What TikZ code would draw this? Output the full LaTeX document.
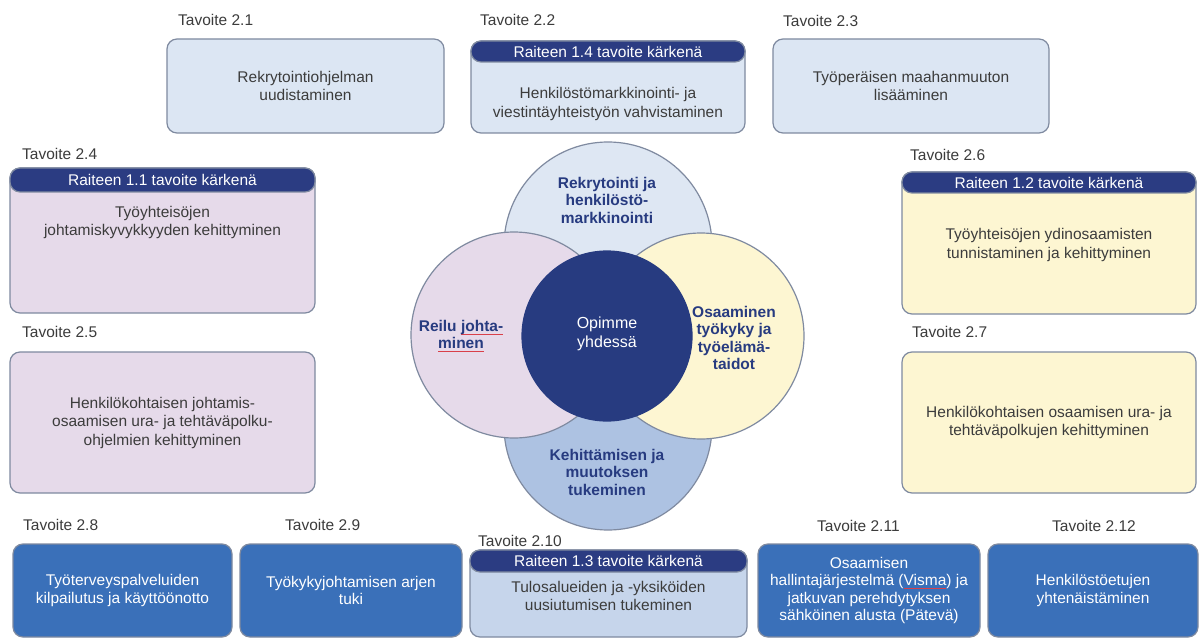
\documentclass[tikz,border=0pt]{standalone}
\usepackage{fontspec}
\setmainfont{Liberation Sans}
\usepackage{tikz}
\usetikzlibrary{positioning}

\definecolor{navyband}{HTML}{2B3C82}
\definecolor{boxline}{HTML}{7F8AA0}
\definecolor{paleblue}{HTML}{DCE6F3}
\definecolor{midblue}{HTML}{C6D5EB}
\definecolor{lilac}{HTML}{E6DAEA}
\definecolor{cream}{HTML}{FDF6D2}
\definecolor{deepblue}{HTML}{3A70B9}
\definecolor{ringblue}{HTML}{ADC2E2}
\definecolor{ringtop}{HTML}{DEE7F3}
\definecolor{coreblue}{HTML}{273B80}
\definecolor{inktext}{HTML}{3C3C3C}
\definecolor{spellred}{HTML}{D9404A}

\newcommand{\spellmark}[1]{\setbox0\hbox{#1}\rlap{\textcolor{spellred}{\rule[-3pt]{\wd0}{0.8pt}}}\box0}

\begin{document}
\begin{tikzpicture}[x=1pt,y=-1pt,
    goal/.style={draw=boxline, line width=1.2pt, rounded corners=10pt, inner sep=0pt, outer sep=0pt,
        align=center, text=inktext, font=\fontsize{15.5}{18.5}\selectfont},
    paleblock/.style={goal, fill=paleblue},
    lilacblock/.style={goal, fill=lilac},
    creamblock/.style={goal, fill=cream},
    deepblock/.style={goal, fill=deepblue, text=white, minimum height=93pt, font=\fontsize{15.5}{17.5}\selectfont},
    band/.style={fill=navyband, draw=boxline, line width=1.2pt, rounded corners=10pt, inner sep=0pt, outer sep=0pt,
        minimum height=22pt, anchor=north, text=white, font=\fontsize{15.5}{18}\selectfont},
    body text/.style={align=center, inner sep=0pt, text=inktext, font=\fontsize{15.5}{18.5}\selectfont},
    goal label/.style={inner sep=0pt, text=inktext, font=\fontsize{15.5}{18}\selectfont},
    ring/.style={circle, draw=boxline, line width=1.2pt, inner sep=0pt},
    ring text/.style={align=center, inner sep=0pt, text=coreblue, font=\bfseries\fontsize{15.5}{17.5}\selectfont}
]
    \fill[white] (0,0) rectangle (1202,639);
    \useasboundingbox (0,0) rectangle (1202,639);

    \node[paleblock, minimum width=277pt, minimum height=94pt] (b21) at (305.5,86) {Rekrytointiohjelman\\uudistaminen};
    \node[paleblock, minimum width=274pt, minimum height=92pt] (b22) at (608,87) {};
    \node[band, minimum width=274pt, minimum height=21pt] (h22) at (b22.north) {Raiteen 1.4 tavoite kärkenä};
    \node[body text] (x22) at (608,104) {Henkilöstömarkkinointi- ja\\viestintäyhteistyön vahvistaminen};
    \node[paleblock, minimum width=276pt, minimum height=94pt] (b23) at (911,86) {Työperäisen maahanmuuton\\lisääminen};

    \node[lilacblock, minimum width=305pt, minimum height=145pt] (b24) at (162.5,240.5) {};
    \node[band, minimum width=305pt, minimum height=24pt] (h24) at (b24.north) {Raiteen 1.1 tavoite kärkenä};
    \node[body text] (x24) at (162.5,222.5) {Työyhteisöjen\\johtamiskyvykkyyden kehittyminen};
    \node[lilacblock, minimum width=305pt, minimum height=141pt] (b25) at (162.5,422.5) {Henkilökohtaisen johtamis-\\osaamisen ura- ja tehtäväpolku-\\ohjelmien kehittyminen};

    \node[creamblock, minimum width=294pt, minimum height=142pt] (b26) at (1049,243) {};
    \node[band, minimum width=294pt, minimum height=21pt] (h26) at (b26.north) {Raiteen 1.2 tavoite kärkenä};
    \node[body text] (x26) at (1049,245) {Työyhteisöjen ydinosaamisten\\tunnistaminen ja kehittyminen};
    \node[creamblock, minimum width=294pt, minimum height=141pt] (b27) at (1049,422.5) {Henkilökohtaisen osaamisen ura- ja\\tehtäväpolkujen kehittyminen};

    \foreach \i/\cx/\w/\txt in {8/122.5/219/{Työterveyspalveluiden\\kilpailutus ja käyttöönotto},
        9/351/222/{Työkykyjohtamisen arjen\\tuki},
        11/869/222/{Osaamisen\\hallintajärjestelmä (\spellmark{Visma}) ja\\jatkuvan perehdytyksen\\sähköinen alusta (Pätevä)},
        12/1093/210/{Henkilöstöetujen\\yhtenäistäminen}}{
        \node[deepblock, minimum width=\w pt] (b2\i) at (\cx,590.5) {\txt};
    }

    \node[goal, fill=midblue, minimum width=277pt, minimum height=87pt] (b210) at (608.5,593.5) {};
    \node[band, minimum width=277pt] (h210) at (b210.north) {Raiteen 1.3 tavoite kärkenä};
    \node[body text] (x210) at (608.5,596) {Tulosalueiden ja -yksiköiden\\uusiutumisen tukeminen};

    \foreach \i/\up/\dx in {1/13/11,2/15/9,3/12/10,4/8/12,5/14/12,6/11/8,7/14/10,8/13/10,9/13/45,10/3/8,11/12/59,12/12/64}{
        \node[goal label, above right=\up pt and \dx pt of b2\i.north west] (tav\i) {Tavoite 2.\i};
    }

    \node[ring, fill=ringtop, minimum size=208pt] (rtop) at (608,246) {};
    \node[ring, fill=ringblue, minimum size=208pt] (rbot) at (608,426) {};
    \node[ring, fill=lilac, minimum size=206pt] (rleft) at (514,335) {};
    \node[ring, fill=cream, minimum size=206pt] (rright) at (701,336) {};
    \node[ring, fill=coreblue, draw=coreblue, minimum size=170pt] (rcore) at (607,336) {};

    \node[ring text] (ltop) at (607,200) {Rekrytointi ja\\henkilöstö-\\markkinointi};
    \node[ring text] (lright) at (734,338) {Osaaminen\\työkyky ja\\työelämä-\\taidot};
    \node[ring text] (lleft) at (461,336) {Reilu \spellmark{johta-}\\\spellmark{minen}};
    \node[ring text] (lbot) at (607,472) {Kehittämisen ja\\muutoksen\\tukeminen};
    \node[ring text, text=white, font=\fontsize{16}{18.5}\selectfont] (lcore) at (607,334) {Opimme\\yhdessä};
\end{tikzpicture}
\end{document}
